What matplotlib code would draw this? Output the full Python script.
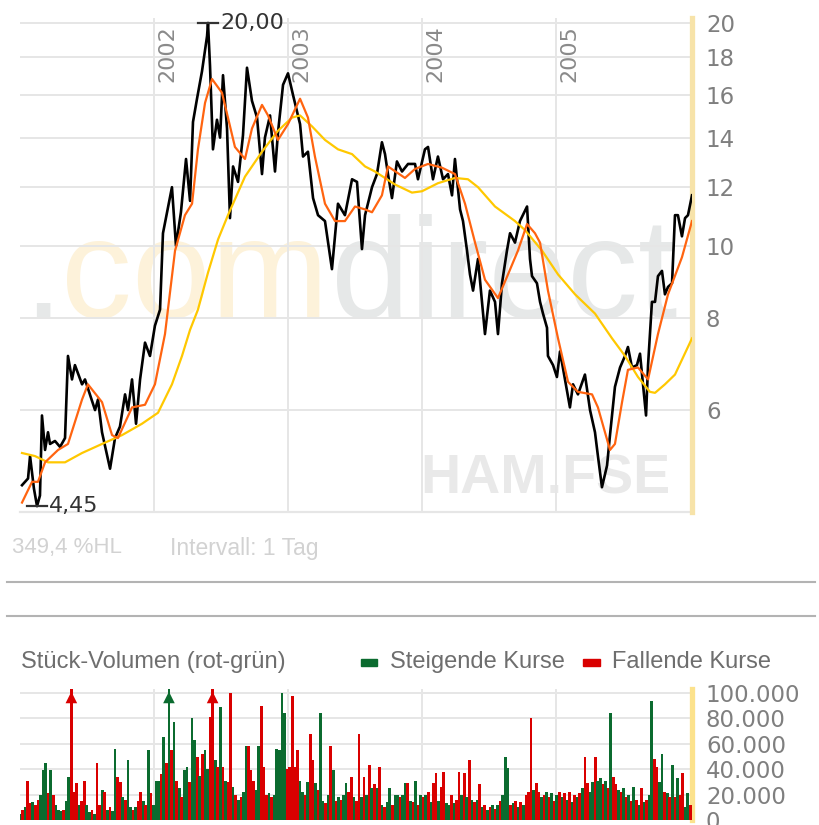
import numpy as np
import pandas as pd
import matplotlib
matplotlib.use("Agg")
import matplotlib.pyplot as plt
from matplotlib.ticker import NullLocator

# ---------------- data ----------------
# daily close line (fractional year, EUR)
close_t = [2001.015, 2001.060, 2001.075, 2001.104, 2001.127, 2001.149, 2001.164, 2001.187, 2001.209, 2001.224,
           2001.261, 2001.299, 2001.336, 2001.358, 2001.388, 2001.410, 2001.463, 2001.485, 2001.522, 2001.560,
           2001.582, 2001.612, 2001.672, 2001.709, 2001.746, 2001.784, 2001.806, 2001.836, 2001.866, 2001.896,
           2001.933, 2001.970, 2002.007, 2002.045, 2002.067, 2002.134, 2002.164, 2002.201, 2002.239, 2002.269,
           2002.291, 2002.321, 2002.358, 2002.396, 2002.403, 2002.418, 2002.440, 2002.470, 2002.493, 2002.515,
           2002.545, 2002.567, 2002.590, 2002.627, 2002.664, 2002.694, 2002.731, 2002.769, 2002.806, 2002.828,
           2002.866, 2002.903, 2002.925, 2002.963, 2003.000, 2003.037, 2003.090, 2003.112, 2003.149, 2003.187,
           2003.224, 2003.276, 2003.328, 2003.373, 2003.425, 2003.478, 2003.515, 2003.552, 2003.575, 2003.627,
           2003.664, 2003.701, 2003.724, 2003.746, 2003.776, 2003.813, 2003.851, 2003.896, 2003.948, 2003.970,
           2004.022, 2004.045, 2004.082, 2004.119, 2004.157, 2004.194, 2004.224, 2004.246, 2004.284, 2004.306,
           2004.336, 2004.358, 2004.381, 2004.418, 2004.448, 2004.470, 2004.507, 2004.545, 2004.567, 2004.597,
           2004.634, 2004.657, 2004.694, 2004.731, 2004.784, 2004.806, 2004.821, 2004.858, 2004.881, 2004.903,
           2004.933, 2004.940, 2004.978, 2005.007, 2005.030, 2005.067, 2005.104, 2005.127, 2005.164, 2005.216,
           2005.254, 2005.291, 2005.313, 2005.343, 2005.381, 2005.403, 2005.440, 2005.478, 2005.515, 2005.537,
           2005.567, 2005.604, 2005.627, 2005.649, 2005.672, 2005.687, 2005.716, 2005.739, 2005.761, 2005.791,
           2005.813, 2005.836, 2005.866, 2005.888, 2005.910, 2005.940, 2005.963, 2005.985, 2006.015]
close_v = [4.75, 4.85, 5.2, 4.7, 4.45, 4.6, 5.9, 5.3, 5.6, 5.4,
           5.45, 5.35, 5.5, 7.1, 6.6, 6.9, 6.5, 6.6, 6.3, 6.0,
           6.2, 5.6, 5.0, 5.5, 5.7, 6.3, 6.0, 6.6, 5.75, 6.6,
           7.4, 7.1, 7.8, 8.2, 10.4, 12.0, 10.0, 11.1, 13.1, 11.5,
           14.7, 15.8, 17.2, 19.2, 20.0, 17.5, 13.5, 14.8, 14.0, 17.0,
           14.4, 10.9, 12.8, 12.2, 14.1, 17.4, 15.7, 14.9, 12.5, 14.0,
           15.0, 12.6, 14.2, 16.5, 17.1, 16.0, 14.6, 13.2, 13.4, 11.6,
           11.0, 10.8, 9.3, 11.4, 11.0, 12.3, 12.2, 9.9, 11.0, 12.0,
           12.5, 13.8, 13.3, 12.5, 11.6, 13.0, 12.6, 12.9, 12.9, 12.3,
           13.5, 13.6, 12.3, 13.2, 12.3, 12.5, 11.7, 13.1, 11.2, 10.8,
           9.85, 9.15, 8.7, 9.6, 8.4, 7.6, 8.7, 8.4, 7.6, 8.9,
           9.85, 10.4, 10.1, 10.8, 11.3, 9.6, 9.1, 8.9, 8.4, 8.1,
           7.75, 7.1, 6.9, 6.65, 7.2, 6.6, 6.05, 6.5, 6.3, 6.7,
           6.0, 5.6, 5.2, 4.72, 5.05, 5.55, 6.45, 6.85, 7.1, 7.3,
           6.85, 6.9, 7.15, 6.5, 5.9, 6.9, 8.4, 8.4, 9.1, 9.25,
           8.6, 8.8, 8.9, 11.0, 11.0, 10.3, 10.9, 11.0, 11.7]

# short moving average (orange)
ma_short_t = [2001.015, 2001.090, 2001.134, 2001.187, 2001.284, 2001.358, 2001.463, 2001.507, 2001.612, 2001.687,
              2001.731, 2001.836, 2001.933, 2002.007, 2002.082, 2002.157, 2002.231, 2002.284, 2002.328, 2002.381,
              2002.433, 2002.507, 2002.552, 2002.604, 2002.679, 2002.731, 2002.806, 2002.851, 2002.925, 2003.000,
              2003.090, 2003.149, 2003.201, 2003.276, 2003.351, 2003.425, 2003.500, 2003.575, 2003.627, 2003.701,
              2003.746, 2003.873, 2003.948, 2004.045, 2004.149, 2004.246, 2004.321, 2004.396, 2004.470, 2004.567,
              2004.642, 2004.716, 2004.784, 2004.843, 2004.881, 2004.940, 2005.015, 2005.090, 2005.164, 2005.269,
              2005.313, 2005.403, 2005.440, 2005.493, 2005.537, 2005.612, 2005.687, 2005.761, 2005.836, 2005.940,
              2006.015]
ma_short_v = [4.5, 4.8, 4.8, 5.1, 5.3, 5.4, 6.2, 6.5, 6.15, 5.55,
              5.5, 6.05, 6.1, 6.5, 7.6, 9.85, 11.0, 11.4, 13.5, 15.6,
              16.8, 16.1, 14.9, 13.6, 13.1, 14.4, 15.5, 15.0, 13.9, 14.6,
              15.8, 14.9, 13.2, 11.4, 10.8, 10.8, 11.3, 11.2, 11.1, 11.7,
              12.8, 12.35, 12.7, 12.9, 12.75, 12.5, 11.4, 10.1, 9.0, 8.5,
              9.15, 9.85, 10.7, 10.4, 10.1, 8.7, 7.5, 6.55, 6.35, 6.3,
              6.05, 5.3, 5.4, 6.15, 6.8, 6.85, 6.6, 7.6, 8.6, 9.65,
              10.8]

# long moving average (yellow)
ma_long_t = [2001.015, 2001.112, 2001.209, 2001.336, 2001.463, 2001.612, 2001.761, 2001.910, 2002.030, 2002.134,
             2002.209, 2002.269, 2002.328, 2002.403, 2002.478, 2002.552, 2002.679, 2002.806, 2002.925, 2003.030,
             2003.090, 2003.179, 2003.276, 2003.373, 2003.478, 2003.575, 2003.649, 2003.799, 2003.925, 2004.000,
             2004.119, 2004.246, 2004.343, 2004.418, 2004.545, 2004.694, 2004.769, 2004.896, 2005.015, 2005.142,
             2005.291, 2005.418, 2005.515, 2005.612, 2005.701, 2005.739, 2005.813, 2005.888, 2006.015]
ma_long_v = [5.25, 5.2, 5.1, 5.1, 5.25, 5.4, 5.55, 5.75, 5.95, 6.5,
             7.1, 7.7, 8.2, 9.2, 10.2, 11.0, 12.4, 13.4, 14.3, 14.9,
             15.0, 14.5, 13.9, 13.5, 13.3, 12.8, 12.6, 12.1, 11.8, 11.85,
             12.15, 12.35, 12.3, 12.0, 11.3, 10.8, 10.5, 9.85, 9.15, 8.6,
             8.1, 7.5, 7.1, 6.65, 6.35, 6.33, 6.5, 6.7, 7.5]

price_ticks = [6, 8, 10, 12, 14, 16, 18, 20]
years = [2002, 2003, 2004, 2005]

# weekly volume (thousand shares) and direction (g = rising, r = falling)
vol_k = [5, 8, 10, 31, 13, 14, 12, 16, 20, 39,
         45, 21, 39, 20, 12, 8, 7, 8, 15, 34,
         120, 22, 29, 12, 15, 31, 12, 6, 8, 5,
         45, 12, 24, 22, 8, 10, 7, 56, 34, 30,
         18, 16, 47, 10, 8, 10, 15, 22, 15, 12,
         55, 21, 12, 31, 31, 36, 65, 45, 120, 55,
         77, 31, 25, 18, 39, 42, 30, 80, 63, 50,
         35, 52, 55, 40, 81, 120, 47, 42, 89, 42,
         31, 30, 100, 26, 20, 16, 18, 22, 58, 58,
         39, 31, 24, 58, 90, 42, 20, 21, 18, 20,
         56, 55, 100, 84, 40, 42, 98, 42, 55, 31,
         22, 20, 30, 68, 47, 29, 24, 84, 15, 13,
         20, 58, 39, 15, 18, 16, 20, 29, 22, 34,
         18, 15, 68, 18, 34, 20, 43, 25, 28, 25,
         42, 12, 10, 14, 25, 12, 20, 20, 18, 20,
         29, 29, 15, 14, 31, 12, 20, 18, 20, 22,
         14, 29, 37, 15, 26, 38, 13, 12, 20, 13,
         16, 38, 20, 37, 18, 47, 16, 14, 16, 28,
         10, 12, 8, 10, 12, 9, 12, 15, 20, 50,
         41, 12, 13, 15, 10, 14, 12, 20, 22, 80,
         24, 29, 22, 18, 20, 22, 18, 21, 15, 20,
         22, 18, 21, 16, 22, 14, 20, 18, 21, 25,
         50, 29, 22, 30, 50, 31, 33, 28, 31, 25,
         84, 34, 28, 24, 22, 25, 18, 20, 15, 26,
         16, 12, 25, 14, 16, 20, 94, 48, 42, 30,
         52, 22, 21, 18, 43, 18, 33, 20, 37, 10,
         21, 12]
vol_dir = ("grgrrgrrgg" "grgrgggrgg" "rrrgrrggrg" "rrgrgrggrr" "grggrgrrgr"
           "grgggrgrgr" "grgrggrggr" "grggrrgrgr" "grrgrgrggr" "rrggrrrgrg"
           "ggggrrrrrg" "grgrrgrggr" "grgrgrggrr" "grrgrgrgrg" "rgrggrggrg"
           "grgrgrgrgr" "grrgrrggrg" "rrgrgrgrgr" "grgrgrgrgg" "grgrgrgrrr"
           "grrgrgrgrg" "rgrgrgrgrg" "rrggrggrgr" "grrgrgrgrg" "rgrgrggrrg"
           "grgrgrgrrg" "gr")
vol_ticks = [0, 20000, 40000, 60000, 80000, 100000]

# ---------------- figure ----------------
W, H = 819, 825
fig = plt.figure(figsize=(W / 100, H / 100), dpi=100)
fig.patch.set_facecolor("white")

GRID = "#e6e6e6"
LBL = "#7f7f7f"
X0, X1 = 2001.0, 2006.015
px_per_year = 672 / (X1 - X0)

# ---- price panel ----
ax = fig.add_axes([20 / W, 1 - 512 / H, 672 / W, 494 / H])
ax.set_yscale("log")
ax.set_xlim(X0, X1)
ax.set_ylim(4.37, 20.31)
for s in ax.spines.values():
    s.set_visible(False)
ax.set_xticks([])
ax.yaxis.tick_right()
ax.yaxis.set_minor_locator(NullLocator())
ax.set_yticks(price_ticks)
ax.set_yticklabels([str(v) for v in price_ticks])
ax.tick_params(axis="y", length=0, pad=10, labelsize=16.5, labelcolor=LBL)
for v in price_ticks:
    ax.axhline(v, color=GRID, lw=1.4, zorder=0.5)
ax.axhline(4.37, color=GRID, lw=1.6, zorder=0.5, clip_on=False)
for yr in years:
    ax.axvline(yr, color=GRID, lw=1.4, zorder=0.5)
    ax.text(yr + 3 / px_per_year, 1 - 7 / 494, str(yr), rotation=90, ha="left", va="top",
            transform=ax.get_xaxis_transform(), fontsize=16, color="#8a8a8a",
            family="DejaVu Sans")
ax.axvline(X1, color="#f7e3a9", lw=3.8, zorder=0.6, clip_on=False)

# watermark ".com" (yellow) + "direct" (grey), pieces chained side by side
wm_kw = dict(fontsize=102, family="Liberation Sans", va="baseline", ha="left", zorder=0.2)
t_dot = ax.text((23 - 20) / 672, (512 - 318) / 494, ".", transform=ax.transAxes,
                color="#e6e8e8", **wm_kw)
t_com = ax.annotate("com", xy=(1, 0), xycoords=t_dot, xytext=(-1, 0),
                    textcoords="offset points", color="#fdf2da", va="bottom", ha="left",
                    fontsize=102, family="Liberation Sans", zorder=0.2)
t_dir = ax.annotate("direct", xy=(1, 0), xycoords=t_com, xytext=(2, 0),
                    textcoords="offset points", color="#e6e8e8", va="bottom", ha="left",
                    fontsize=102, family="Liberation Sans", zorder=0.2)
ax.text((420 - 20) / 672, (512 - 494) / 494, "HAM.FSE", transform=ax.transAxes,
        fontsize=40, fontweight="bold", family="Liberation Sans", color="#e9e9e9",
        ha="left", va="baseline", zorder=0.2)

# lines
ax.plot(close_t, close_v, color="black", lw=1.9, zorder=3)
ax.plot(ma_long_t, ma_long_v, color="#ffc800", lw=1.6, zorder=4)
ax.plot(ma_short_t, ma_short_v, color="#ff6410", lw=1.6, zorder=5)

# max / min annotations
i_max = int(np.argmax(close_v))
i_min = int(np.argmin(close_v))
half = 10 / px_per_year
for i in (i_max, i_min):
    t, v = close_t[i], close_v[i]
    ax.plot([t - half, t + half], [v, v], color="#333333", lw=1.6, clip_on=False, zorder=6)
    ax.text(t + 12 / px_per_year, v, f"{v:.2f}".replace(".", ","), ha="left", va="center",
            fontsize=16, color="#333333", family="DejaVu Sans", clip_on=False, zorder=6)

# info text
fig.text(12 / W, 1 - 548 / H, "349,4 %HL", fontsize=16, color="#d2d2d2",
         family="Liberation Sans", ha="left", va="center")
fig.text(170 / W, 1 - 548 / H, "Intervall: 1 Tag", fontsize=16.5, color="#d2d2d2",
         family="Liberation Sans", ha="left", va="center")

# separators
for yy in (582, 616):
    fig.add_artist(plt.Line2D([7 / W, 815 / W], [1 - yy / H, 1 - yy / H],
                              color="#b3b3b3", lw=1.5, transform=fig.transFigure))

# volume header + legend
fig.text(21 / W, 1 - 662 / H, "Stück-Volumen (rot-grün)", fontsize=17, color="#6e6e6e",
         family="Liberation Sans", ha="left", va="center")
GREEN = "#0b6b2f"
RED = "#d90000"
fig.add_artist(plt.Rectangle((361 / W, 1 - 666 / H), 16 / W, 7 / H, color=GREEN,
                             transform=fig.transFigure))
fig.text(390 / W, 1 - 662 / H, "Steigende Kurse", fontsize=17, color="#6e6e6e",
         family="Liberation Sans", ha="left", va="center")
fig.add_artist(plt.Rectangle((583 / W, 1 - 666 / H), 17 / W, 7 / H, color=RED,
                             transform=fig.transFigure))
fig.text(612 / W, 1 - 662 / H, "Fallende Kurse", fontsize=17, color="#6e6e6e",
         family="Liberation Sans", ha="left", va="center")

# ---- volume panel ----
vx = fig.add_axes([20 / W, 1 - 820 / H, 672 / W, 131 / H])
dates = pd.date_range("2001-01-01", periods=len(vol_k), freq="7D")
vt = 2001 + (dates - pd.Timestamp("2001-01-01")).days.values / 365.25
vols = np.array(vol_k) * 1000.0
cols = [GREEN if d == "g" else RED for d in vol_dir]
vx.set_xlim(X0, X1)
vmax_view = 100000 * 131 / 127
vx.set_ylim(0, vmax_view)
for s in vx.spines.values():
    s.set_visible(False)
vx.set_xticks([])
for v in vol_ticks[1:]:
    vx.axhline(v, color=GRID, lw=1.4, zorder=0.5)
for yr in years:
    vx.axvline(yr, color=GRID, lw=1.4, zorder=0.5)
vx.bar(vt, vols, width=1.05 / 52.18, color=cols, linewidth=0, align="center", zorder=2)
over = vols > 100000
vx.scatter(vt[over], np.full(over.sum(), 96500), marker="^", s=70,
           c=[c for c, o in zip(cols, over) if o], linewidths=0, zorder=3, clip_on=False)
vx.axvline(X1, color="#fce28c", lw=3.8, zorder=0.6, clip_on=False)
vx.yaxis.tick_right()
vx.set_yticks(vol_ticks)
vx.set_yticklabels([f"{v:,}".replace(",", ".") for v in vol_ticks])
vx.tick_params(axis="y", length=0, pad=10, labelsize=16.5, labelcolor=LBL)

fig.savefig("out.png", dpi=100, facecolor="white")
